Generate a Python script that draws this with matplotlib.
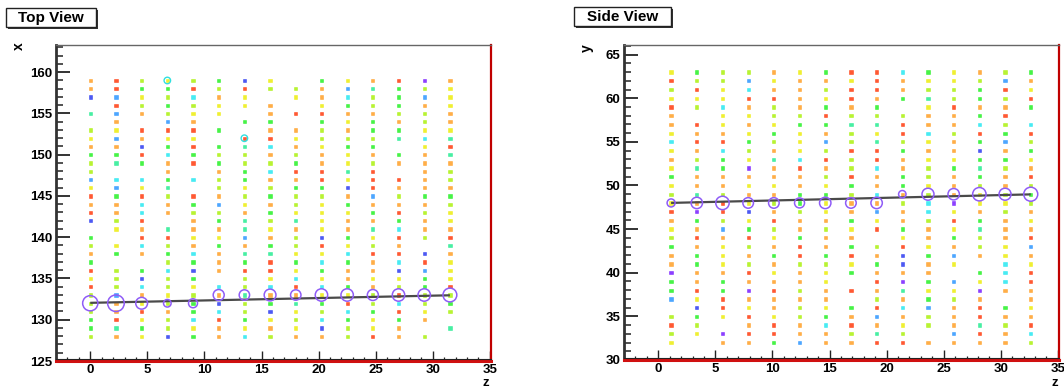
import matplotlib
matplotlib.use("Agg")
import matplotlib.pyplot as plt
from matplotlib.patches import Rectangle
from matplotlib.ticker import MultipleLocator

plt.rcParams['font.family'] = ['Liberation Sans', 'DejaVu Sans']
plt.rcParams['font.weight'] = 'bold'

W, H = 1064, 387

# ---------------- hit maps ----------------
# colour code per hit: r red, o orange, y yellow, l lime, g green,
# t spring green, c cyan, a azure, b blue, p violet, '.' no hit
top_z = [0.0, 2.25, 4.5, 6.75, 9.0, 11.25, 13.5, 15.75, 18.0, 20.25, 22.5, 24.75, 27.0, 29.25, 31.5]
top_x = [159, 158, 157, 156, 155, 154, 153, 152, 151, 150, 149, 148, 147, 146, 145, 144,
         143, 142, 141, 140, 139, 138, 137, 136, 135, 134, 133, 132, 131, 130, 129, 128]
top_hits = [
    "orlylgby.gyorpo",
    "orggrlrlloatgly",
    "baylcoy.yoclgay",
    ".rlglyyo.yglgoy",
    "taolyy.orroollo",
    ".o.ao.gg.gygolo",
    "lyrrrg.oologgyy",
    "yaoyy.rryllltct",
    "oobgrgtcoygg.yr",
    "ggrcglloloyogot",
    "ltgorgllgoylooo",
    "l..o.ogcrrtr.ol",
    "accgclgooryrrol",
    "yayt.lylggbrooo",
    "rgrlrolglloalgg",
    "oocogayolygoool",
    "rocollogyyygrly",
    "blr.ogtltyoogoy",
    ".yotootyoyotcoo",
    "g.rryyaolbgyrlr",
    "lyclogoglrylo.t",
    "ogogcottyycrrbo",
    "g..lgogrgcgocry",
    "rlgcborrygoobay",
    "ylblg.lycyoyygy",
    "rlclyclcrcgolgr",
    "laoylotooyylrll",
    "loylgblgtgrlclg",
    "lorogclbylcgryl",
    "grylcrgylcgygo.",
    "gtglyoyoyblyo.t",
    "loybgocloolrol.",
]
top_flagged = [(6.75, 159), (13.5, 152)]

side_z = [1.125, 3.375, 5.625, 7.875, 10.125, 12.375, 14.625, 16.875, 19.125, 21.375,
          23.625, 25.875, 28.125, 30.375, 32.625]
side_y = [63, 62, 61, 60, 59, 58, 57, 56, 55, 54, 53, 52, 51, 50, 49, 48,
          47, 46, 45, 44, 43, 42, 41, 40, 39, 38, 37, 36, 35, 34, 33, 32]
side_hits = [
    "yglloygrrcgyolg",
    "rllayooyroyylao",
    "lrycoolrrollgry",
    "yyyrroyrogtlglr",
    "rlcologog.yroog",
    "o.yyllrllloogr.",
    "oryoyggttrooclc",
    "yooygyolyrclrgr",
    "crrglyaltlyogal",
    "yocloylrrgoobog",
    "olgytcrlroyyggy",
    "ytgporolcolgtlo",
    "gooooolroglogor",
    "yooyyoygogyolol",
    "ltloogglcoloylg",
    "yorylgyoolcpyyl",
    "rprbolyoaocyolo",
    "oglyroogyolrgoy",
    "yoaglolyrgoytoo",
    "lrorygoo.yoglor",
    "goyloroglryolya",
    "ogyogrgrobgaoyo",
    "ogylollygboy.cy",
    "pooryoygooo.gcr",
    "gogoooy.rpgaycr",
    "grgprlorotyypoo",
    "ayroooo.loglo.o",
    ".bryolygrcaorgy",
    "lgyrylgoaoloroo",
    "rl.orocroylotlr",
    "lyprrooltl.aroc",
    "y.oogaoorrooool",
]

# ---------------- track clusters and fits ----------------
top_cluster_x = [132, 132, 132, 132, 132, 133, 133, 133, 133, 133, 133, 133, 133, 133, 133]
top_cluster_q = [7.6, 8.3, 5.9, 3.8, 4.5, 5.5, 5.2, 5.9, 5.2, 6.2, 6.2, 5.5, 6.2, 6.2, 6.9]
top_fit = (132.05, 0.029)

side_cluster_y = [48, 48, 48, 48, 48, 48, 48, 48, 48, 49, 49, 49, 49, 49, 49]
side_cluster_q = [4.0, 5.7, 6.7, 5.3, 5.3, 5.0, 5.7, 5.3, 5.7, 3.7, 6.0, 5.7, 6.7, 6.0, 7.0]
side_fit = (47.97, 0.031)

palette = {
    'r': '#ff3000', 'o': '#ff9a1a', 'y': '#ecec00', 'l': '#a6f000',
    'g': '#19f019', 't': '#1aeb8c', 'c': '#1ae6f0', 'a': '#2090ff',
    'b': '#2030f0', 'p': '#7010ff',
}

fig = plt.figure(figsize=(W / 100, H / 100), dpi=100)


def px_axes(x0, y0, x1, y1):
    return fig.add_axes([x0 / W, 1 - y1 / H, (x1 - x0) / W, (y1 - y0) / H])


def draw_panel(ax, zs, rows, hits, cl_pos, cl_q, fit, ylim, flagged=()):
    xs, ys, cs = [], [], []
    for r, row in zip(rows, hits):
        for z, ch in zip(zs, row):
            if ch != '.':
                xs.append(z)
                ys.append(r)
                cs.append(palette[ch])
    ax.scatter(xs, ys, marker='s', s=5.5, c=cs, edgecolors=cs, linewidths=0.4,
               alpha=0.8, zorder=2)
    for (fz, fx) in flagged:
        ax.scatter([fz], [fx], marker='o', s=22, facecolors='none',
                   edgecolors='#30e0e0', linewidths=1.0, zorder=3)
    a, b = fit
    ax.plot([zs[0], zs[-1]], [a + b * zs[0], a + b * zs[-1]], color='#4a4a4a',
            lw=1.6, zorder=4, solid_capstyle='butt')
    sizes = [(2 * q * 0.72) ** 2 for q in cl_q]
    ax.scatter(zs, cl_pos, s=sizes, facecolors='none', edgecolors='#8f5cf7',
               linewidths=1.1, zorder=5)

    ax.set_xlim(-3, 35.1)
    ax.set_ylim(*ylim)
    ax.xaxis.set_major_locator(MultipleLocator(5))
    ax.xaxis.set_minor_locator(MultipleLocator(1))
    ax.yaxis.set_major_locator(MultipleLocator(5))
    ax.yaxis.set_minor_locator(MultipleLocator(1))
    ax.tick_params(axis='y', which='major', direction='in', length=10, width=1.4,
                   color='#333333', labelsize=9.5, pad=2.5)
    ax.tick_params(axis='y', which='minor', direction='in', length=5.2, width=1.2,
                   color='#333333')
    ax.tick_params(axis='x', which='major', direction='in', length=7, width=1.0,
                   color='#222222', labelsize=9.5, pad=2.0)
    ax.tick_params(axis='x', which='minor', direction='in', length=3, width=0.9,
                   color='#222222')
    ax.tick_params(top=False, right=False)
    for lab in ax.get_xticklabels() + ax.get_yticklabels():
        lab.set_fontweight('bold')
    ax.spines['left'].set_color('#333333')
    ax.spines['left'].set_linewidth(2.0)
    ax.spines['top'].set_color('#666666')
    ax.spines['top'].set_linewidth(1.0)
    ax.spines['right'].set_color('#c00000')
    ax.spines['right'].set_linewidth(1.6)
    ax.spines['bottom'].set_color('#d01010')
    ax.spines['bottom'].set_linewidth(2.2)
    ax.plot([0, 1], [0.006, 0.006], transform=ax.transAxes, color='#222222',
            lw=0.8, clip_on=False, zorder=6)


ax1 = px_axes(56, 45, 491, 361)
draw_panel(ax1, top_z, top_x, top_hits, top_cluster_x, top_cluster_q, top_fit,
           (125, 163.3), top_flagged)

ax2 = px_axes(624, 45, 1059, 360)
draw_panel(ax2, side_z, side_y, side_hits, side_cluster_y, side_cluster_q, side_fit,
           (30, 66.1))


def ftext(x, y, s, **kw):
    fig.text(x / W, 1 - y / H, s, fontweight='bold', **kw)


ftext(19, 46, 'x', fontsize=10, rotation=90, ha='center', va='center')
ftext(486, 382.5, 'z', fontsize=9.5, ha='center', va='center')
ftext(587, 48, 'y', fontsize=10, rotation=90, ha='center', va='center')
ftext(1055, 382.5, 'z', fontsize=9.5, ha='center', va='center')


def title_box(x0, y0, x1, y1, s):
    shadow = Rectangle((x0 / W + 2 / W, 1 - y1 / H - 2 / H), (x1 - x0) / W, (y1 - y0) / H,
                       transform=fig.transFigure, facecolor='#333333', edgecolor='none')
    box = Rectangle((x0 / W, 1 - y1 / H), (x1 - x0) / W, (y1 - y0) / H,
                    transform=fig.transFigure, facecolor='white', edgecolor='#222222',
                    linewidth=1.0)
    fig.add_artist(shadow)
    fig.add_artist(box)
    ftext((x0 + x1) / 2, (y0 + y1) / 2 + 0.5, s, fontsize=11, ha='center', va='center')


title_box(6, 8, 96, 27, 'Top View')
title_box(574, 7, 671, 26, 'Side View')

fig.savefig('out.png', dpi=100)
